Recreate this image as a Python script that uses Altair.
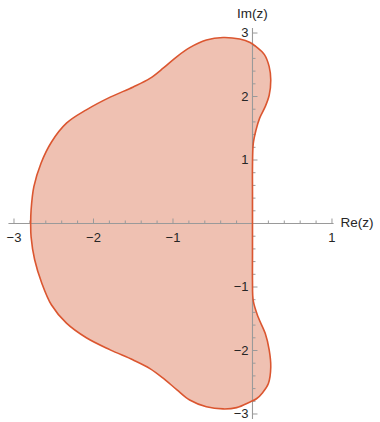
import altair as alt
import pandas as pd

# Boundary of the region, traced counter-clockwise starting at the origin
boundary_re = [
    0.0, 0.0, 0.0, 0.01, 0.044, 0.09, 0.16, 0.21, 0.23, 0.21, 0.15, 0.05,
    -0.03, -0.16, -0.37, -0.58, -0.79, -0.95, -1.12, -1.29, -1.50, -1.79,
    -2.09, -2.34, -2.53, -2.66, -2.75, -2.785, -2.79,
    -2.785, -2.74, -2.65, -2.53, -2.34, -2.09, -1.79, -1.50, -1.29, -1.12,
    -0.95, -0.79, -0.58, -0.37, -0.20, -0.03, 0.05, 0.13, 0.20, 0.23, 0.21,
    0.16, 0.07, 0.01, 0.0, 0.0, 0.0,
]
boundary_im = [
    0.0, 0.5, 0.9, 1.26, 1.47, 1.66, 1.84, 2.02, 2.26, 2.47, 2.66, 2.78,
    2.85, 2.905, 2.93, 2.89, 2.77, 2.63, 2.45, 2.285, 2.15, 1.99,
    1.79, 1.58, 1.28, 0.95, 0.58, 0.21, 0.0,
    -0.21, -0.57, -0.94, -1.28, -1.57, -1.80, -1.99, -2.15, -2.285, -2.44,
    -2.62, -2.78, -2.885, -2.92, -2.90, -2.81, -2.76, -2.66, -2.52, -2.26, -1.99,
    -1.73, -1.47, -1.22, -0.9, -0.5, 0.0,
]

# Axis ticks and labels
x_major = [-3, -2, -1, 1]
x_major_labels = ["\u22123", "\u22122", "\u22121", "1"]
y_major = [3, 2, 1, -1, -2, -3]
y_major_labels = ["3", "2", "1", "\u22121", "\u22122", "\u22123"]
x_minor = [-2.8, -2.6, -2.4, -2.2, -1.8, -1.6, -1.4, -1.2, -0.8, -0.6, -0.4,
           -0.2, 0.2, 0.4, 0.6, 0.8]
y_minor = [2.8, 2.6, 2.4, 2.2, 1.8, 1.6, 1.4, 1.2, 0.8, 0.6, 0.4, 0.2,
           -0.2, -0.4, -0.6, -0.8, -1.2, -1.4, -1.6, -1.8, -2.2, -2.4, -2.6, -2.8]

x_axis_range = [-3.07, 1.02]
y_axis_range = [-3.08, 3.08]

FILL = "#EFC1B2"
EDGE = "#DB5630"
AXIS = "#9a9a9a"
TEXT = "#262626"
FONT = "Liberation Sans"

W, H = 380, 422
x_scale = alt.Scale(domain=[-3.176, 1.604], nice=False, zero=False)
y_scale = alt.Scale(domain=[-3.126, 3.52], nice=False, zero=False)

# tick lengths in data units (x units per px ~ 1/79.5, y units per px ~ 1/63.5)
MAJ_Y = 5 / 63.5
MIN_Y = 3 / 63.5
MAJ_X = 5 / 79.5
MIN_X = 3 / 79.5

region = pd.DataFrame({
    "re": boundary_re,
    "im": boundary_im,
    "order": list(range(len(boundary_re))),
})

X = alt.X("re:Q", scale=x_scale, axis=None)
Y = alt.Y("im:Q", scale=y_scale, axis=None)

fill = alt.Chart(region).mark_line(
    fill=FILL, strokeOpacity=0, interpolate="catmull-rom"
).encode(x=X, y=Y, order="order:Q")

edge = alt.Chart(region).mark_line(
    color=EDGE, strokeWidth=1.6, interpolate="catmull-rom"
).encode(x=X, y=Y, order="order:Q")

axes_df = pd.DataFrame({
    "x1": [x_axis_range[0], 0.0], "x2": [x_axis_range[1], 0.0],
    "y1": [0.0, y_axis_range[0]], "y2": [0.0, y_axis_range[1]],
})
axes = alt.Chart(axes_df).mark_rule(color=AXIS, strokeWidth=1.1).encode(
    x=alt.X("x1:Q", scale=x_scale, axis=None), x2="x2:Q",
    y=alt.Y("y1:Q", scale=y_scale, axis=None), y2="y2:Q",
)

xt = pd.DataFrame({
    "v": x_major + x_minor,
    "len": [MAJ_Y] * len(x_major) + [MIN_Y] * len(x_minor),
})
xt["y0"] = 0.0
xticks = alt.Chart(xt).transform_calculate(y1="datum.len").mark_rule(
    color=AXIS, strokeWidth=1
).encode(
    x=alt.X("v:Q", scale=x_scale, axis=None),
    y=alt.Y("y0:Q", scale=y_scale, axis=None), y2="y1:Q",
)

yt = pd.DataFrame({
    "v": y_major + y_minor,
    "len": [MAJ_X] * len(y_major) + [MIN_X] * len(y_minor),
})
yt["x0"] = 0.0
yticks = alt.Chart(yt).transform_calculate(x1="datum.len").mark_rule(
    color=AXIS, strokeWidth=1
).encode(
    y=alt.Y("v:Q", scale=y_scale, axis=None),
    x=alt.X("x0:Q", scale=x_scale, axis=None), x2="x1:Q",
)

xl = pd.DataFrame({"v": x_major, "t": x_major_labels, "y0": 0.0})
xlabels = alt.Chart(xl).mark_text(
    font=FONT, fontSize=13, color=TEXT, baseline="middle", align="center", dy=14
).encode(
    x=alt.X("v:Q", scale=x_scale, axis=None),
    y=alt.Y("y0:Q", scale=y_scale, axis=None), text="t:N",
)

yl = pd.DataFrame({"v": y_major, "t": y_major_labels, "x0": 0.0})
ylabels = alt.Chart(yl).mark_text(
    font=FONT, fontSize=13, color=TEXT, baseline="middle", align="right", dx=-4
).encode(
    y=alt.Y("v:Q", scale=y_scale, axis=None),
    x=alt.X("x0:Q", scale=x_scale, axis=None), text="t:N",
)

names = pd.DataFrame({
    "x": [x_axis_range[1], 0.0], "y": [0.0, y_axis_range[1]],
    "t": ["Re(z)", "Im(z)"],
})
re_name = alt.Chart(names.iloc[[0]]).mark_text(
    font=FONT, fontSize=13.5, color=TEXT, baseline="middle", align="left", dx=7, dy=-1
).encode(
    x=alt.X("x:Q", scale=x_scale, axis=None),
    y=alt.Y("y:Q", scale=y_scale, axis=None), text="t:N",
)
im_name = alt.Chart(names.iloc[[1]]).mark_text(
    font=FONT, fontSize=13.5, color=TEXT, baseline="middle", align="center", dy=-14
).encode(
    x=alt.X("x:Q", scale=x_scale, axis=None),
    y=alt.Y("y:Q", scale=y_scale, axis=None), text="t:N",
)

chart = alt.layer(
    fill, axes, xticks, yticks, edge, xlabels, ylabels, re_name, im_name
).properties(
    width=W, height=H, padding=0, autosize=alt.AutoSizeParams(type="none"),
    background="white",
).configure_view(stroke=None)

chart.save("out.html", embed_options={"renderer": "svg", "actions": False})
